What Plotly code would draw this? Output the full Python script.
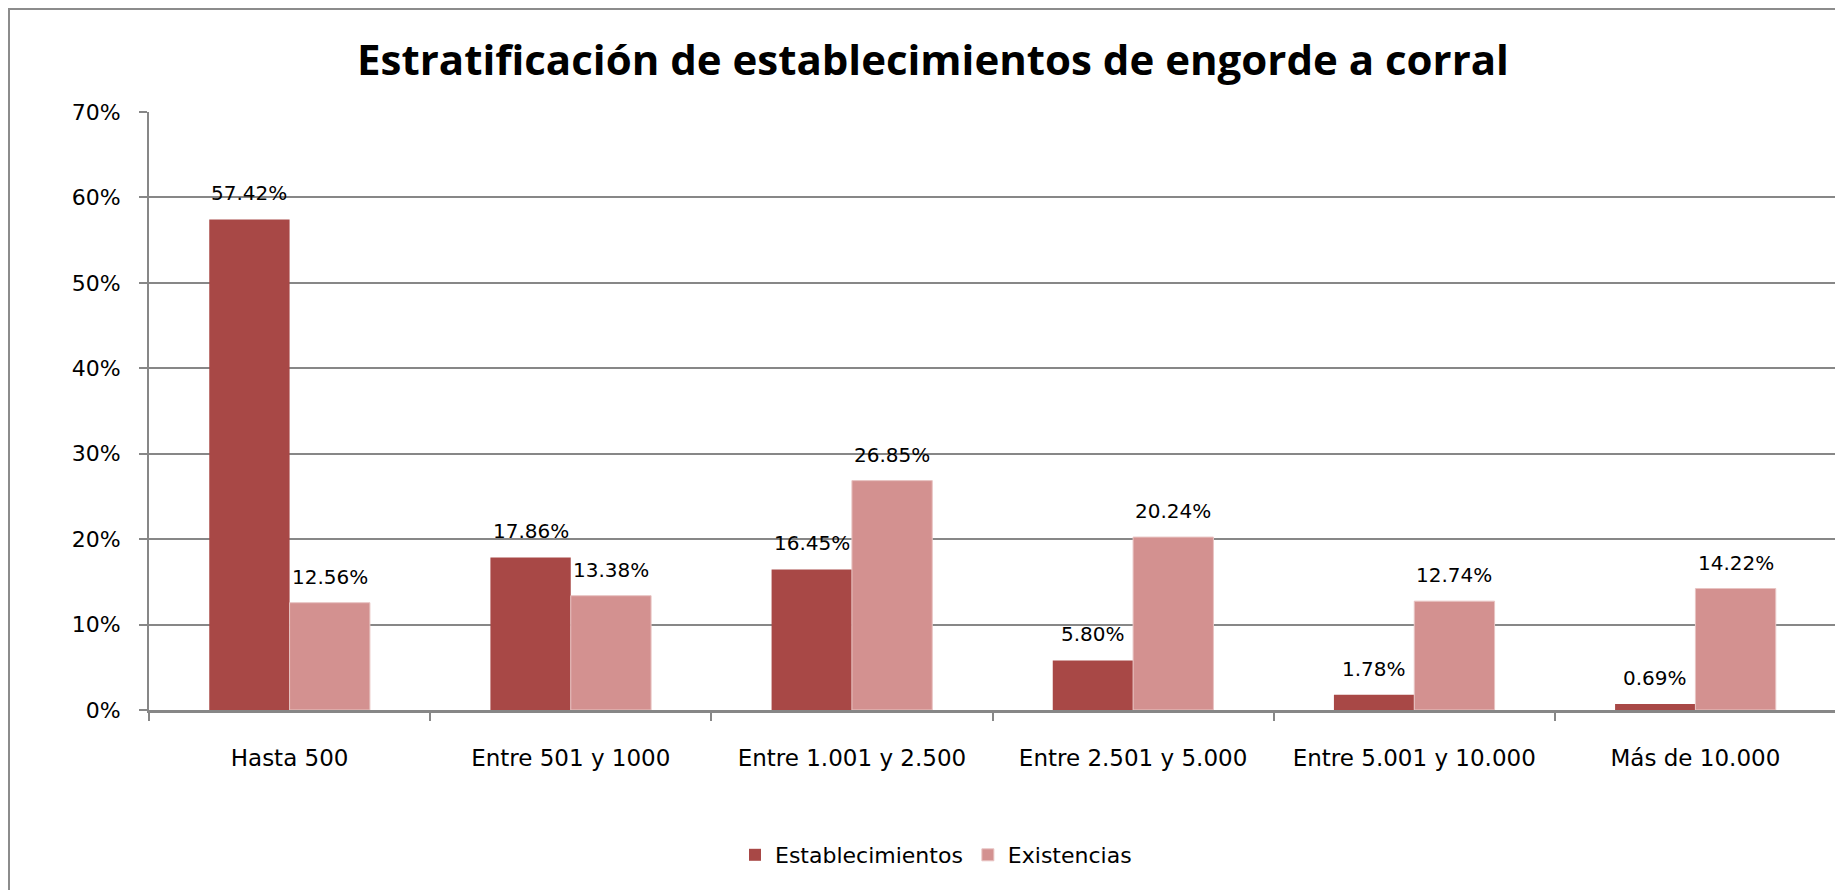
import plotly.graph_objects as go

categories = ["Hasta 500", "Entre 501 y 1000", "Entre 1.001 y 2.500",
              "Entre 2.501 y 5.000", "Entre 5.001 y 10.000", "Más de 10.000"]
establecimientos = [57.42, 17.86, 16.45, 5.80, 1.78, 0.69]
existencias = [12.56, 13.38, 26.85, 20.24, 12.74, 14.22]
series_names = ["Establecimientos", "Existencias"]
title_text = "Estratificación de establecimientos de engorde a corral"

# page body has an 8px margin; figure coordinates are offset accordingly
OFF = 8
W, H = 1843 - OFF, 890 - OFF
L, R, T, B = 149 - OFF, 1836 - OFF, 112 - OFF, 710 - OFF

c1 = "#A84846"
c2 = "#D39190"
grid = "#878787"

fig = go.Figure()
fig.add_trace(go.Bar(x=categories, y=establecimientos, name=series_names[0],
                     marker=dict(color=c1, line=dict(width=0))))
fig.add_trace(go.Bar(x=categories, y=existencias, name=series_names[1],
                     marker=dict(color=c2, line=dict(color="#E8C4C3", width=1))))

pw = R - L
ph = B - T
bar_w = pw / 6 / 3.5
ann = []
for vals, sh in ((establecimientos, -bar_w / 2), (existencias, bar_w / 2)):
    for c, v in zip(categories, vals):
        ann.append(dict(x=c, y=v, xref="x", yref="y", text=f"{v:.2f}%",
                        showarrow=False, xshift=sh, yshift=12, yanchor="bottom",
                        font=dict(family="DejaVu Sans", size=20, color="#000000")))

box = dict(type="rect", xref="paper", yref="paper",
           x0=(1 - L) / pw, x1=1.05, y0=-0.5, y1=(B - 1) / ph,
           line=dict(color="#8C8C8C", width=2), fillcolor="rgba(0,0,0,0)", layer="below")

fig.update_layout(
    width=W, height=H,
    margin=dict(l=L, r=W - R, t=T, b=H - B, pad=0, autoexpand=False),
    paper_bgcolor="white", plot_bgcolor="white",
    barmode="group", bargap=1.5 / 3.5, bargroupgap=0,
    title=dict(text=title_text, x=(925 - L) / pw, xref="paper", xanchor="center",
               y=1 - 52 / H, yref="container", yanchor="middle",
               font=dict(family="Open Sans", size=42, color="#000000", weight="bold")),
    legend=dict(orientation="h", x=(928 - L) / pw, xanchor="center",
                y=(B - 847) / ph, yanchor="middle",
                font=dict(family="DejaVu Sans", size=22, color="#000000"),
                itemwidth=30, traceorder="normal"),
    annotations=ann,
    shapes=[box],
    showlegend=True,
)
fig.update_yaxes(range=[0, 70], dtick=10, ticksuffix="%", showgrid=True,
                 gridcolor=grid, gridwidth=1.5, zeroline=False,
                 showline=True, linecolor=grid, linewidth=2,
                 ticks="outside", ticklen=8, tickwidth=2, tickcolor=grid,
                 ticklabelstandoff=14,
                 tickfont=dict(family="DejaVu Sans", size=22, color="#000000"))
fig.update_xaxes(showline=True, linecolor=grid, linewidth=3,
                 ticks="outside", tickson="boundaries", ticklen=8, tickwidth=2,
                 tickcolor=grid, ticklabelstandoff=25,
                 tickfont=dict(family="DejaVu Sans", size=23, color="#000000"))

fig.write_html("out.html")
